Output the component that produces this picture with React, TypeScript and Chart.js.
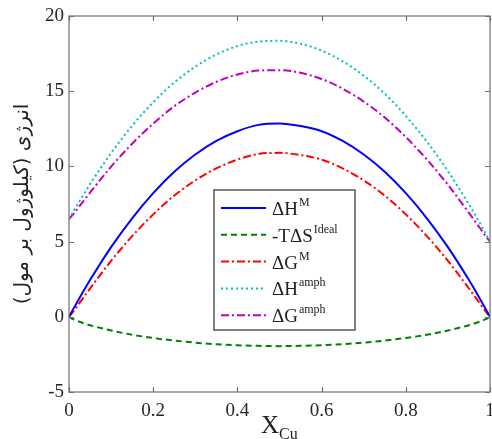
import React, { useEffect, useRef } from "react";
import { Chart, registerables } from "chart.js";

Chart.register(...registerables);

// Mole fraction of Cu
const xCu = [0, 0.01, 0.025, 0.05, 0.1, 0.15, 0.2, 0.25, 0.3, 0.35, 0.4, 0.45, 0.5, 0.55, 0.6, 0.65, 0.7, 0.75, 0.8, 0.85, 0.9, 0.95, 0.975, 0.99, 1];

const dHmix = [0, 0.51, 1.25, 2.44, 4.63, 6.55, 8.22, 9.64, 10.79, 11.69, 12.34, 12.76, 12.85, 12.68, 12.34, 11.69, 10.79, 9.64, 8.22, 6.55, 4.63, 2.44, 1.25, 0.51, 0];
const mTdSideal = [0, -0.16, -0.33, -0.56, -0.91, -1.19, -1.41, -1.58, -1.72, -1.82, -1.89, -1.93, -1.95, -1.93, -1.89, -1.82, -1.72, -1.58, -1.41, -1.19, -0.91, -0.56, -0.33, -0.16, 0];
const dGmix = [0, 0.35, 0.92, 1.88, 3.72, 5.36, 6.81, 8.06, 9.07, 9.87, 10.45, 10.83, 10.9, 10.75, 10.45, 9.87, 9.07, 8.06, 6.81, 5.36, 3.72, 1.88, 0.92, 0.35, 0];
const dHamph = [6.5, 6.98, 7.69, 8.82, 10.89, 12.7, 14.26, 15.58, 16.63, 17.44, 18.0, 18.3, 18.35, 18.15, 17.7, 16.99, 16.03, 14.83, 13.36, 11.65, 9.69, 7.47, 6.27, 5.51, 5.0];
const dGamph = [6.5, 6.82, 7.36, 8.26, 9.98, 11.51, 12.85, 14.0, 14.91, 15.62, 16.11, 16.37, 16.4, 16.22, 15.81, 15.17, 14.31, 13.25, 11.95, 10.46, 8.78, 6.91, 5.94, 5.35, 5.0];

const seriesBase = ["ΔH", "-TΔS", "ΔG", "ΔH", "ΔG"];
const seriesSup = ["M", "Ideal", "M", "amph", "amph"];

const xTickValues = [0, 0.2, 0.4, 0.6, 0.8, 1];
const xTickLabels = ["0", "0.2", "0.4", "0.6", "0.8", "1"];
const yTickValues = [-5, 0, 5, 10, 15, 20];
const yTickLabels = ["-5", "0", "5", "10", "15", "20"];

const yTitle = "\u200Fانرژی (کیلوژول بر مول)\u200F";
const xTitleMain = "X";
const xTitleSub = "Cu";

const SERIF = "'Liberation Serif', 'Times New Roman', serif";

const framePlugin = {
  id: "frameLegend",
  afterDraw(chart: any) {
    const { ctx, chartArea: a, scales } = chart;
    ctx.save();
    // frame
    ctx.strokeStyle = "#707070";
    ctx.lineWidth = 1.2;
    ctx.strokeRect(a.left, a.top, a.right - a.left, a.bottom - a.top);
    // inward ticks
    const tl = 5;
    ctx.beginPath();
    for (const v of xTickValues) {
      const px = Math.round(scales.x.getPixelForValue(v)) + 0.5;
      ctx.moveTo(px, a.bottom);
      ctx.lineTo(px, a.bottom - tl);
      ctx.moveTo(px, a.top);
      ctx.lineTo(px, a.top + tl);
    }
    for (const v of yTickValues) {
      const py = Math.round(scales.y.getPixelForValue(v)) + 0.5;
      ctx.moveTo(a.left, py);
      ctx.lineTo(a.left + tl, py);
      ctx.moveTo(a.right, py);
      ctx.lineTo(a.right - tl, py);
    }
    ctx.stroke();

    // legend
    const bx = 214, by = 190, bw = 141, bh = 140;
    ctx.fillStyle = "#ffffff";
    ctx.fillRect(bx, by, bw, bh);
    ctx.strokeStyle = "#555555";
    ctx.lineWidth = 1.5;
    ctx.strokeRect(bx, by, bw, bh);
    chart.data.datasets.forEach((ds: any, i: number) => {
      const cy = 208 + i * 26.8;
      ctx.save();
      ctx.strokeStyle = ds.borderColor;
      ctx.lineWidth = ds.borderWidth;
      ctx.setLineDash(ds.borderDash || []);
      ctx.beginPath();
      ctx.moveTo(221, cy);
      ctx.lineTo(266, cy);
      ctx.stroke();
      ctx.restore();
      ctx.fillStyle = "#222222";
      ctx.textBaseline = "alphabetic";
      ctx.textAlign = "left";
      ctx.font = `19px ${SERIF}`;
      const base = seriesBase[i];
      ctx.fillText(base, 272, cy + 7);
      const w = ctx.measureText(base).width;
      ctx.font = `12px ${SERIF}`;
      ctx.fillText(seriesSup[i], 272 + w + 1, cy - 2);
    });

    // x title with subscript
    ctx.fillStyle = "#222222";
    ctx.textAlign = "left";
    ctx.textBaseline = "alphabetic";
    ctx.font = `25px ${SERIF}`;
    ctx.fillText(xTitleMain, 261, 433);
    const xw = ctx.measureText(xTitleMain).width;
    ctx.font = `16px ${SERIF}`;
    ctx.fillText(xTitleSub, 261 + xw, 439);
    ctx.restore();
  },
};

export default function App() {
  const ref = useRef<HTMLCanvasElement | null>(null);
  useEffect(() => {
    if (!ref.current) return;
    const mk = (arr: number[]) => xCu.map((x, i) => ({ x, y: arr[i] }));
    const chart = new Chart(ref.current, {
      type: "line",
      data: {
        datasets: [
          { label: "ΔH^M", data: mk(dHmix), borderColor: "#0000ff", borderWidth: 2, borderDash: [] },
          { label: "-TΔS^Ideal", data: mk(mTdSideal), borderColor: "#008000", borderWidth: 2, borderDash: [6, 4] },
          { label: "ΔG^M", data: mk(dGmix), borderColor: "#ff0000", borderWidth: 2, borderDash: [8, 3, 2, 3] },
          { label: "ΔH^amph", data: mk(dHamph), borderColor: "#00bfbf", borderWidth: 2, borderDash: [2, 3] },
          { label: "ΔG^amph", data: mk(dGamph), borderColor: "#bf00bf", borderWidth: 2, borderDash: [8, 3, 2, 3] },
        ].map((d) => ({ ...d, pointRadius: 0, fill: false, cubicInterpolationMode: "monotone" as const })),
      },
      options: {
        animation: false,
        responsive: false,
        devicePixelRatio: 1,
        layout: { padding: { top: 16, right: 2, left: 0, bottom: 0 }, autoPadding: false },
        plugins: { legend: { display: false }, tooltip: { enabled: false } },
        scales: {
          x: {
            type: "linear",
            min: 0,
            max: 1,
            afterBuildTicks: (s: any) => {
              s.ticks = xTickValues.map((v) => ({ value: v }));
            },
            afterFit: (s: any) => {
              s.height = 47;
              s.paddingLeft = 0;
              s.paddingRight = 0;
            },
            grid: { display: false, drawTicks: false },
            border: { display: false },
            ticks: {
              autoSkip: false,
              maxRotation: 0,
              padding: 8,
              color: "#262626",
              font: { family: SERIF, size: 19 },
              callback: (v: any) => {
                const idx = xTickValues.findIndex((t) => Math.abs(t - Number(v)) < 1e-9);
                return idx >= 0 ? xTickLabels[idx] : "";
              },
            },
          },
          y: {
            type: "linear",
            min: -5,
            max: 20,
            afterBuildTicks: (s: any) => {
              s.ticks = yTickValues.map((v) => ({ value: v }));
            },
            afterFit: (s: any) => {
              s.width = 69;
              s.paddingTop = 0;
              s.paddingBottom = 0;
            },
            grid: { display: false, drawTicks: false },
            border: { display: false },
            ticks: {
              padding: 5,
              color: "#262626",
              font: { family: SERIF, size: 19 },
              callback: (v: any) => {
                const idx = yTickValues.findIndex((t) => Math.abs(t - Number(v)) < 1e-9);
                return idx >= 0 ? yTickLabels[idx] : "";
              },
            },
            title: {
              display: true,
              text: yTitle,
              color: "#222222",
              font: { family: "'DejaVu Sans', serif", size: 20 },
              padding: { top: 11, bottom: 0 },
            },
          },
        },
      },
      plugins: [framePlugin],
    });
    return () => chart.destroy();
  }, []);
  return (
    <div style={{ position: "absolute", left: 0, top: 0, width: 492, height: 439, background: "#fff" }}>
      <canvas ref={ref} width={492} height={439} style={{ display: "block", width: 492, height: 439 }} />
    </div>
  );
}
